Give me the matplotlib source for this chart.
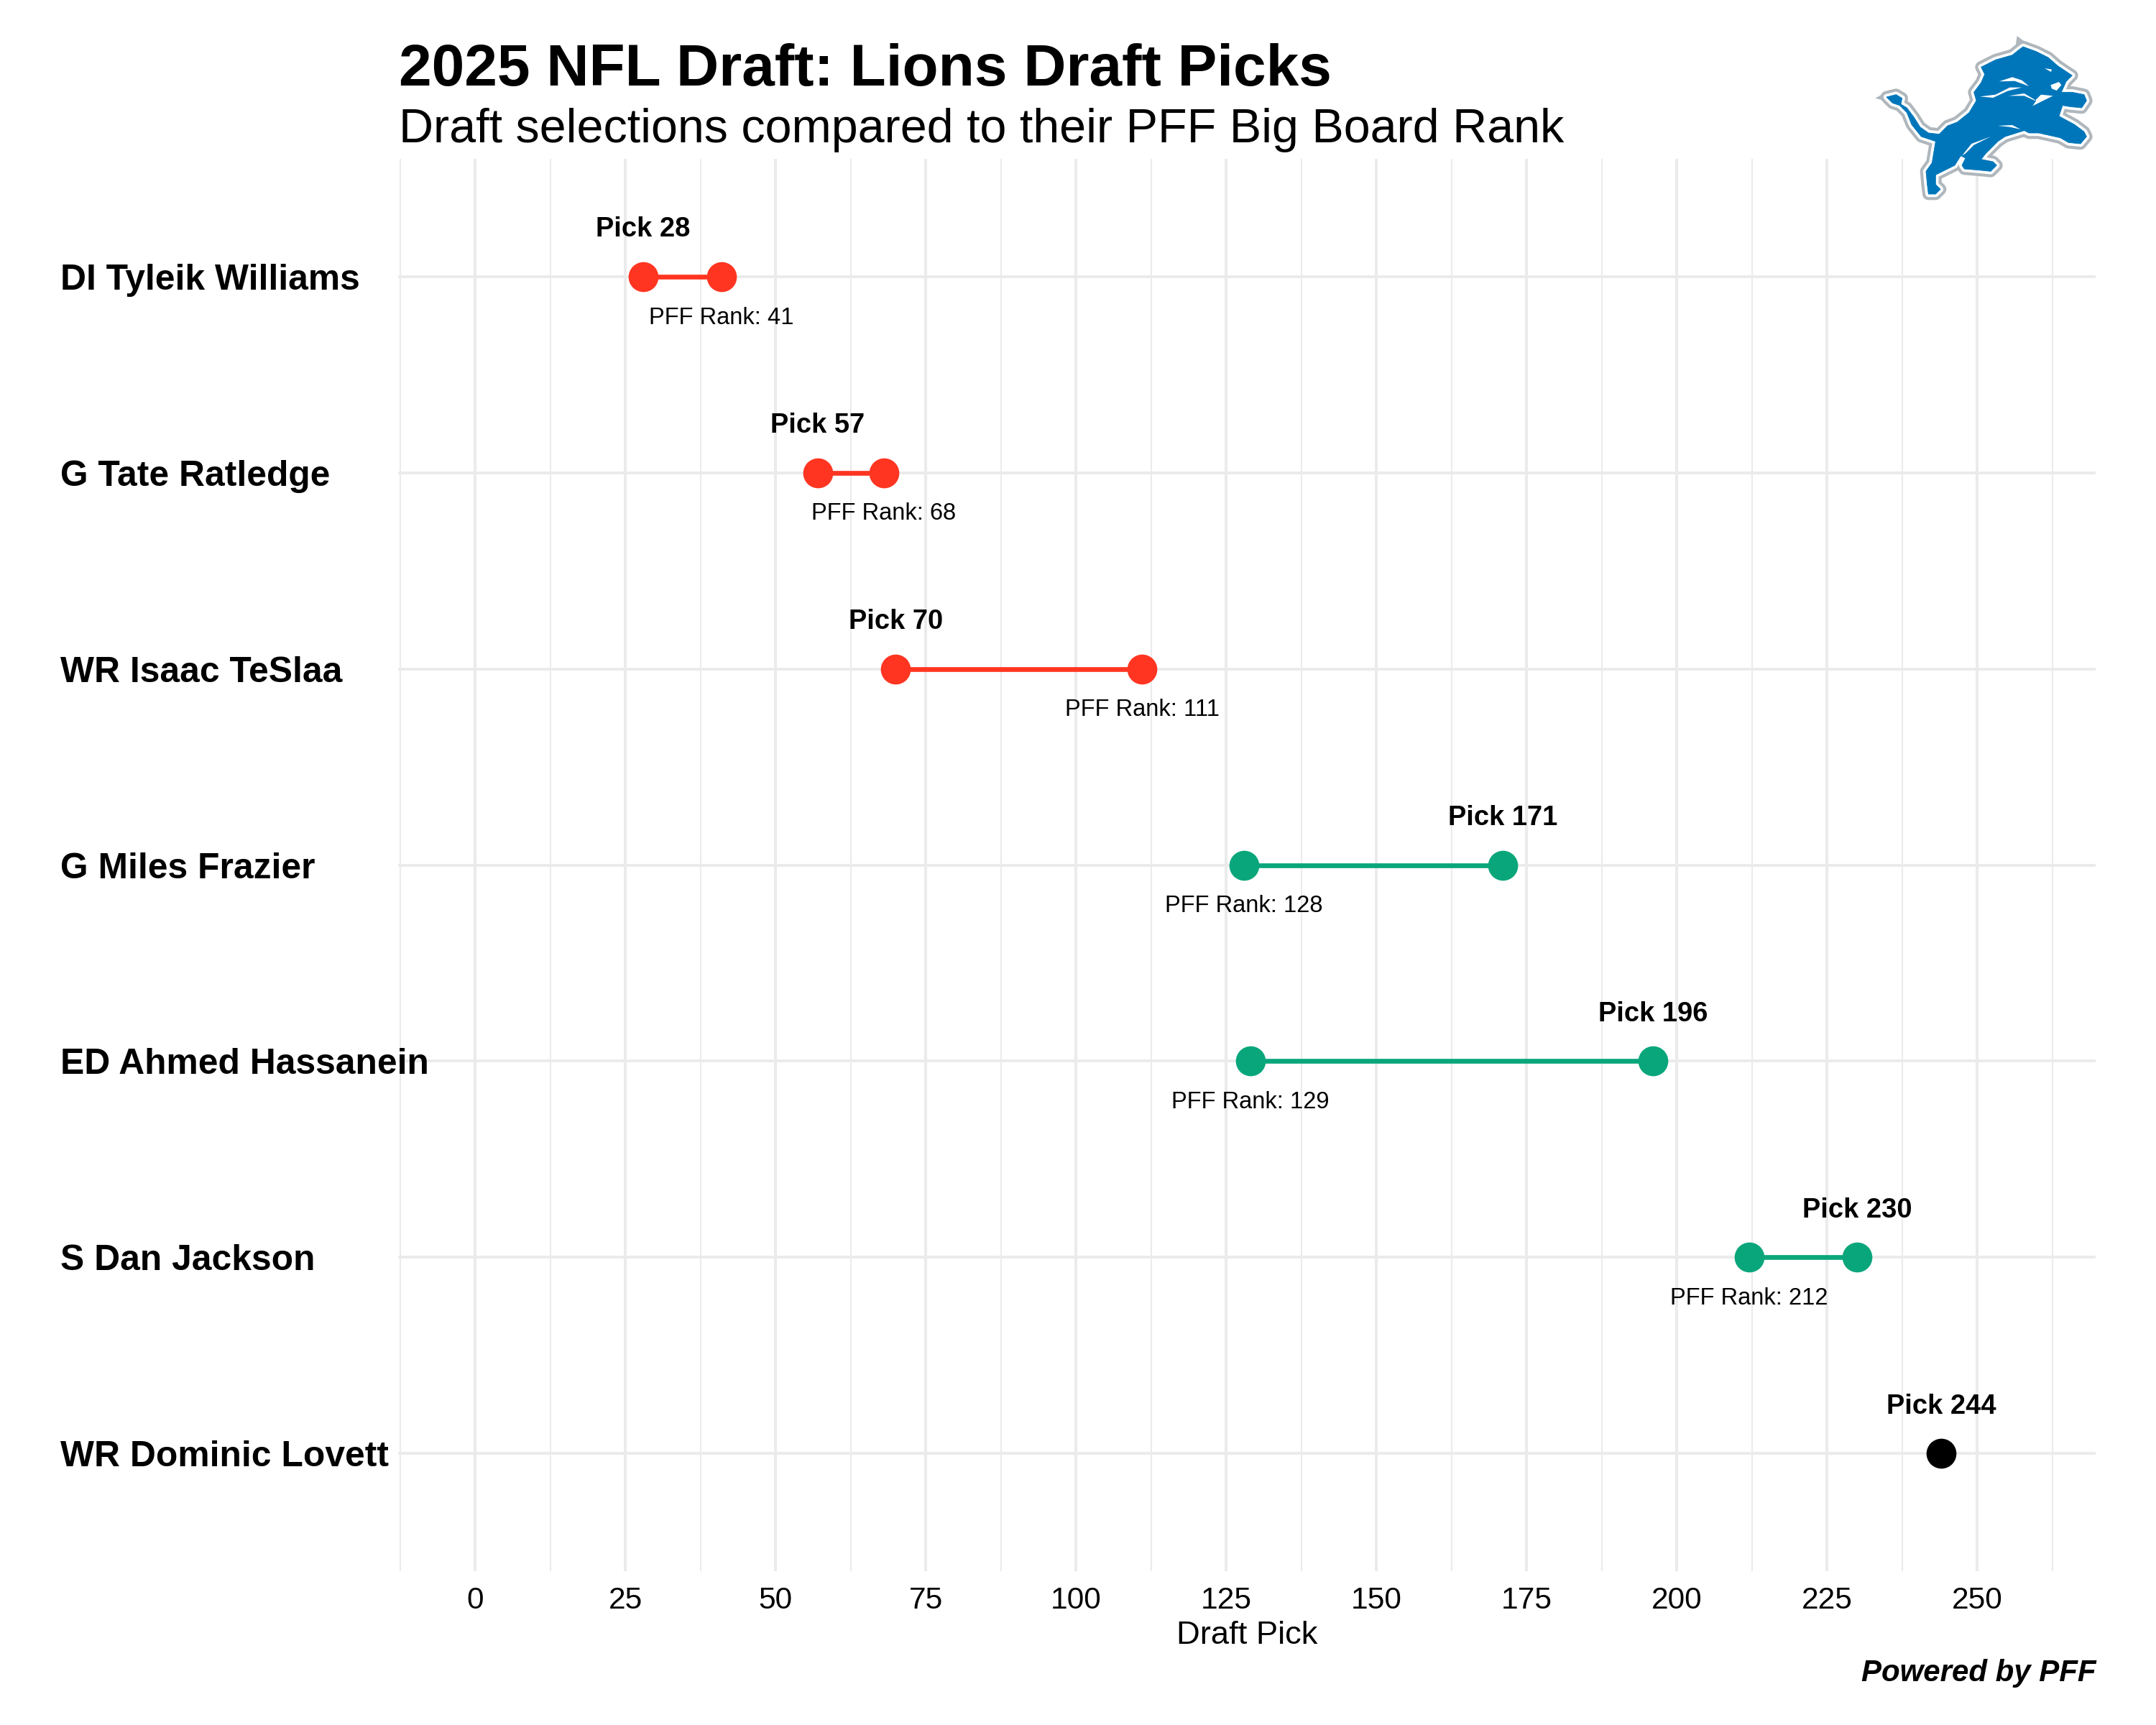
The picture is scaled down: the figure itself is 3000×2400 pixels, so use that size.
import matplotlib
matplotlib.use("Agg")
import matplotlib.pyplot as plt
import matplotlib.patheffects as pe
from matplotlib.patches import Polygon

plt.rcParams['font.family'] = ['Liberation Sans', 'DejaVu Sans']

# data
players = ["DI Tyleik Williams", "G Tate Ratledge", "WR Isaac TeSlaa", "G Miles Frazier",
           "ED Ahmed Hassanein", "S Dan Jackson", "WR Dominic Lovett"]
picks = [28, 57, 70, 171, 196, 230, 244]
ranks = [41, 68, 111, 128, 129, 212, None]
major_ticks = [0, 25, 50, 75, 100, 125, 150, 175, 200, 225, 250]
minor_ticks = [-12.5, 12.5, 37.5, 62.5, 87.5, 112.5, 137.5, 162.5, 187.5, 212.5, 237.5, 262.5]

RED = "#FF3521"
GREEN = "#0AA67B"
GRID = "#EBEBEB"

W, H = 3000, 2400
fig = plt.figure(figsize=(10, 8), dpi=300)

# panel position in pixels
left, right, top, bottom = 553.6, 2916, 221, 2186
ax = fig.add_axes([left / W, 1 - bottom / H, (right - left) / W, (bottom - top) / H])
ax.set_xlim(-12.85, 269.7)
ax.set_ylim(6.6, -0.6)

for s in ax.spines.values():
    s.set_visible(False)

ax.set_xticks(major_ticks)
ax.set_xticks(minor_ticks, minor=True)
ax.set_yticks(range(len(players)))
ax.set_yticklabels(players, fontsize=11.95, fontweight='bold', ha='left')
ax.tick_params(axis='y', length=0, pad=112.7)
ax.tick_params(axis='x', which='both', length=0, pad=5, labelsize=10.2)
ax.grid(True, which='major', color=GRID, lw=0.95)
ax.grid(True, which='minor', axis='x', color=GRID, lw=0.5)
ax.set_axisbelow(True)
ax.set_xlabel("Draft Pick", fontsize=10.9, labelpad=2)

for i, (pick, rank) in enumerate(zip(picks, ranks)):
    if rank is None:
        color = "black"
    elif pick < rank:
        color = RED
    else:
        color = GREEN
    if rank is not None:
        ax.plot([pick, rank], [i, i], color=color, lw=1.6, solid_capstyle='butt', zorder=3)
        ax.scatter([rank], [i], s=100, color=color, linewidths=0, zorder=4)
        ax.text(rank, i + 0.21, f"PFF Rank: {rank}", ha='center', va='center', fontsize=7.85)
    ax.scatter([pick], [i], s=100, color=color, linewidths=0, zorder=4)
    ax.text(pick, i - 0.24, f"Pick {pick}", ha='center', va='center', fontsize=9.15, fontweight='bold')

fig.text(left / W + 0.0005, 1 - 119 / H, "2025 NFL Draft: Lions Draft Picks", fontsize=19.7,
         fontweight='bold', ha='left', va='baseline')
fig.text(left / W + 0.0005, 1 - 198 / H, "Draft selections compared to their PFF Big Board Rank",
         fontsize=15.95, ha='left', va='baseline')
fig.text(right / W, 1 - 2328 / H, "Powered by PFF", fontsize=10.1, fontweight='bold',
         style='italic', ha='right', va='center')

# team logo, hand traced outline
logo = fig.add_axes([2550 / W, 1 - 320 / H, 450 / W, 320 / H])
logo.set_xlim(0, 1350)
logo.set_ylim(960, 0)
logo.axis('off')
logo.patch.set_alpha(0)

LION = [(225, 405), (265, 395), (290, 410), (285, 435), (310, 450), (340, 490), (365, 530), (400, 555),
        (445, 560), (480, 525), (520, 510), (570, 470), (600, 420), (590, 385), (620, 345), (635, 310),
        (620, 280), (680, 250), (750, 230), (775, 210), (795, 195), (850, 215), (900, 240), (940, 275),
        (1000, 315), (975, 340), (955, 385), (1000, 385), (1050, 395), (1060, 420), (1040, 450),
        (990, 445), (960, 440), (945, 485), (1010, 520), (1050, 550), (1060, 570), (1035, 600),
        (985, 595), (950, 575), (860, 555), (820, 555), (800, 545), (720, 570), (690, 590), (640, 640),
        (620, 665), (670, 675), (685, 690), (660, 715), (610, 710), (550, 705), (540, 690), (555, 660),
        (535, 650), (510, 690), (430, 730), (430, 770), (450, 790), (430, 810), (400, 810), (395, 770),
        (390, 715), (415, 680), (430, 590), (370, 570), (330, 520), (310, 470), (280, 440), (250, 430)]
SPIKES = [[(770, 150), (830, 195), (760, 215)], [(178, 410), (240, 375), (250, 430)]]
DETAILS = [[(695, 340), (750, 322), (790, 335), (820, 360), (760, 338)],
           [(615, 403), (680, 395), (740, 365), (790, 365), (730, 380), (670, 408)],
           [(735, 400), (800, 390), (850, 420), (835, 442), (920, 400), (870, 395), (845, 420), (800, 400)],
           [(910, 355), (945, 342), (955, 355), (935, 378), (915, 370)],
           [(885, 285), (915, 290), (912, 300)],
           [(690, 525), (750, 522), (785, 540), (740, 530)],
           [(540, 650), (580, 600), (660, 570), (590, 605), (555, 640)]]

for s in SPIKES:
    logo.add_patch(Polygon(s, closed=True, facecolor="#B0B7BC", edgecolor="none"))
logo.add_patch(Polygon(LION, closed=True, facecolor="#0076BA", edgecolor="#0076BA", lw=0.2, joinstyle='round',
                       path_effects=[pe.Stroke(linewidth=4.0, foreground="#B0B7BC"),
                                     pe.Stroke(linewidth=2.0, foreground="white"),
                                     pe.Normal()]))
for d in DETAILS:
    logo.add_patch(Polygon(d, closed=True, facecolor="white", edgecolor="none"))

fig.savefig("out.png", dpi=300, facecolor="white")
